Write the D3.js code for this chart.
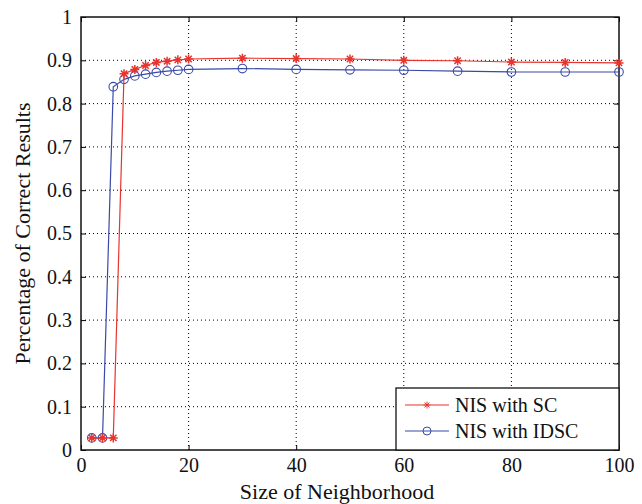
<!DOCTYPE html>
<body style="margin:0;background:#fff">
<script src="https://cdn.jsdelivr.net/npm/d3@7"></script>
<script>
  const sizes = [2, 4, 6, 8, 10, 12, 14, 16, 18, 20, 30, 40, 50, 60, 70, 80, 90, 100]
  const scValues = [0.028, 0.028, 0.028, 0.869, 0.879, 0.888, 0.895, 0.898, 0.901, 0.903, 0.905, 0.904, 0.903, 0.900, 0.899, 0.896, 0.895, 0.894]
  const idscValues = [0.028, 0.028, 0.839, 0.856, 0.864, 0.868, 0.872, 0.875, 0.877, 0.879, 0.881, 0.879, 0.878, 0.877, 0.875, 0.873, 0.873, 0.873]
  const xTicks = [0, 20, 40, 60, 80, 100]
  const yTicks = [0, 0.1, 0.2, 0.3, 0.4, 0.5, 0.6, 0.7, 0.8, 0.9, 1]
  const seriesNames = ['NIS with SC', 'NIS with IDSC']

  const colors = {sc: '#e8342e', idsc: '#3a4aa8'}
  const margin = {left: 81, top: 17, right: 23, bottom: 54}
  const width = 642 - margin.left - margin.right,
        height = 504 - margin.top - margin.bottom
  const font = "'Liberation Serif', 'DejaVu Serif', serif"

  const xScale = d3.scaleLinear().domain([0, 100]).range([0, width])
  const yScale = d3.scaleLinear().domain([0, 1]).range([height, 0])

  const svg = d3.select('body').append('svg')
      .attr('width', 642).attr('height', 504)
      .attr('font-family', font)
  const g = svg.append('g')
      .attr('transform', `translate(${margin.left}, ${margin.top})`)

  // grid
  g.selectAll('.gx').data(xTicks.slice(1, -1)).enter().append('line')
      .attr('x1', d => xScale(d)).attr('x2', d => xScale(d))
      .attr('y1', 0).attr('y2', height)
      .style('stroke', '#000').style('stroke-width', 1).style('stroke-dasharray', '1,3')
  g.selectAll('.gy').data(yTicks.slice(1, -1)).enter().append('line')
      .attr('x1', 0).attr('x2', width)
      .attr('y1', d => yScale(d)).attr('y2', d => yScale(d))
      .style('stroke', '#000').style('stroke-width', 1).style('stroke-dasharray', '1,3')

  // axes (inward ticks on all four sides)
  const styleAxis = sel => {
    sel.attr('font-family', font).attr('font-size', 20)
    sel.select('.domain').remove()
    sel.selectAll('line').style('stroke', '#000')
    sel.selectAll('text').style('fill', '#111')
  }
  g.append('g').attr('transform', `translate(0, ${height})`)
    .call(d3.axisBottom(xScale).tickValues(xTicks).tickSize(-5).tickPadding(8).tickFormat(d3.format('d')))
    .call(styleAxis)
  g.append('g')
    .call(d3.axisLeft(yScale).tickValues(yTicks).tickSize(-5).tickPadding(9).tickFormat(d => d === 0 || d === 1 ? d : d3.format('.1f')(d)))
    .call(styleAxis)
  g.append('g')
    .call(d3.axisTop(xScale).tickValues(xTicks).tickSize(-5).tickFormat(''))
    .call(styleAxis)
  g.append('g').attr('transform', `translate(${width}, 0)`)
    .call(d3.axisRight(yScale).tickValues(yTicks).tickSize(-5).tickFormat(''))
    .call(styleAxis)

  g.append('rect')
      .attr('width', width).attr('height', height)
      .style('fill', 'none').style('stroke', '#111').style('stroke-width', 1.5)

  const line = d3.line().x(d => xScale(d[0])).y(d => yScale(d[1]))

  function starPath(r) {
    let p = ''
    for (let i = 0; i < 4; i++) {
      const a = i * Math.PI / 4
      p += `M${-r * Math.cos(a)},${-r * Math.sin(a)}L${r * Math.cos(a)},${r * Math.sin(a)}`
    }
    return p
  }

  function drawSeries(values, color, marker) {
    const pts = sizes.map((s, i) => [s, values[i]])
    g.append('path').datum(pts).attr('d', line)
        .style('fill', 'none').style('stroke', color).style('stroke-width', 1.2)
    const m = g.selectAll(null).data(pts).enter()
    if (marker === 'star') {
      m.append('path')
          .attr('transform', d => `translate(${xScale(d[0])}, ${yScale(d[1])})`)
          .attr('d', starPath(4.5))
          .style('stroke', color).style('stroke-width', 1.5).style('fill', 'none')
    } else {
      m.append('circle')
          .attr('cx', d => xScale(d[0])).attr('cy', d => yScale(d[1])).attr('r', 4.3)
          .style('stroke', color).style('stroke-width', 1.1).style('fill', 'none')
    }
  }

  drawSeries(idscValues, colors.idsc, 'circle')
  drawSeries(scValues, colors.sc, 'star')

  // legend
  const lx = 315, ly = 371, lw = 223, lh = 62
  const legend = g.append('g')
  legend.append('rect')
      .attr('x', lx).attr('y', ly).attr('width', lw).attr('height', lh)
      .style('fill', '#fff').style('stroke', '#111').style('stroke-width', 1.3)
  const items = [
    {name: seriesNames[0], color: colors.sc, marker: 'star'},
    {name: seriesNames[1], color: colors.idsc, marker: 'circle'}
  ]
  items.forEach((it, i) => {
    const y = ly + 17 + i * 26
    legend.append('line')
        .attr('x1', lx + 9).attr('x2', lx + 53).attr('y1', y).attr('y2', y)
        .style('stroke', it.color).style('stroke-width', 1.2)
    if (it.marker === 'star') {
      legend.append('path').attr('transform', `translate(${lx + 31}, ${y})`)
          .attr('d', starPath(3.5)).style('stroke', it.color).style('fill', 'none')
    } else {
      legend.append('circle').attr('cx', lx + 31).attr('cy', y).attr('r', 4)
          .style('stroke', it.color).style('fill', 'none')
    }
    legend.append('text')
        .attr('x', lx + 59).attr('y', y + 7)
        .attr('font-size', 20).style('fill', '#111')
        .text(it.name)
  })

  // axis labels
  svg.append('text')
      .attr('x', 337).attr('y', 499)
      .attr('text-anchor', 'middle')
      .attr('font-size', 22).style('fill', '#111')
      .text('Size of Neighborhood')
  svg.append('text')
      .attr('transform', `translate(30, ${margin.top + height / 2}) rotate(-90)`)
      .attr('text-anchor', 'middle')
      .attr('font-size', 22).style('fill', '#111')
      .text('Percentage of Correct Results')
</script>
</body>
